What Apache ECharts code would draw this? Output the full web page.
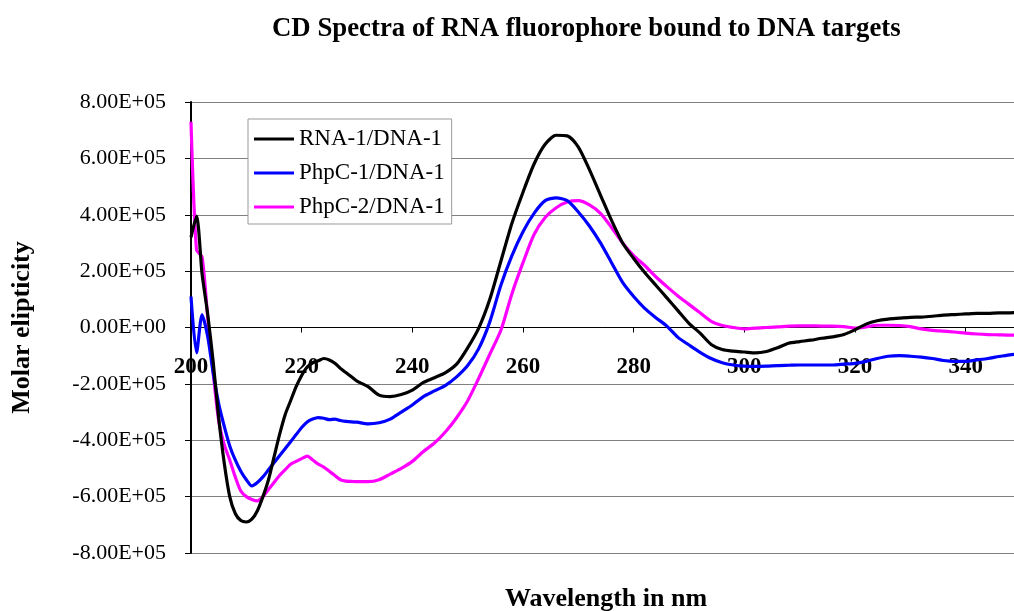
<!DOCTYPE html>
<html>
<head>
<meta charset="utf-8">
<script src="https://cdn.jsdelivr.net/npm/echarts@6/dist/echarts.min.js"></script>
<style>
html,body{margin:0;padding:0;background:#fff;}
#chart{width:1014px;height:611px;}
</style>
</head>
<body>
<div id="chart"></div>
<script>
// Wavelengths (nm): 1 nm steps to 230, then 2 nm steps
const wavelengths = [
  200,201,202,203,204,205,206,207,208,209,210,211,212,213,214,215,216,217,218,219,
  220,221,222,223,224,225,226,227,228,229,230,
  232,234,236,238,240,242,244,246,248,250,252,254,256,258,260,262,264,266,268,270,
  272,274,276,278,280,282,284,286,288,290,292,294,296,298,300,302,304,306,308,310,
  312,314,316,318,320,322,324,326,328,330,332,334,336,338,340,342,344,346,348,350
];
// Molar ellipticity values in units of 1E+05
const rna1dna1 = [
  3.2,3.95,1.9,0.5,-1.2,-3.2,-4.8,-6.0,-6.6,-6.85,-6.9,-6.8,-6.5,-6.0,-5.4,-4.6,-3.8,-3.1,-2.6,-2.1,
  -1.7,-1.4,-1.25,-1.18,-1.1,-1.15,-1.27,-1.45,-1.6,-1.75,-1.9,
  -2.1,-2.4,-2.45,-2.38,-2.22,-1.95,-1.78,-1.6,-1.3,-0.72,-0.02,1.0,2.35,3.7,4.8,5.8,6.5,6.82,6.8,6.4,
  5.6,4.7,3.8,3.0,2.45,1.95,1.5,1.05,0.6,0.15,-0.2,-0.6,-0.78,-0.84,-0.87,-0.9,-0.85,-0.72,-0.56,-0.5,
  -0.45,-0.38,-0.33,-0.25,-0.08,0.12,0.24,0.3,0.33,0.36,0.37,0.4,0.44,0.46,0.48,0.5,0.5,0.52,0.52,0.54
];
const phpc1dna1 = [
  1.1,-0.9,0.45,-0.3,-1.6,-2.7,-3.5,-4.2,-4.7,-5.1,-5.4,-5.62,-5.5,-5.3,-5.05,-4.8,-4.55,-4.3,-4.05,-3.8,
  -3.55,-3.35,-3.25,-3.2,-3.22,-3.27,-3.25,-3.3,-3.33,-3.35,-3.36,
  -3.42,-3.38,-3.25,-3.0,-2.75,-2.45,-2.25,-2.05,-1.75,-1.35,-0.75,0.2,1.5,2.55,3.4,4.05,4.5,4.6,4.5,4.1,
  3.6,3.0,2.3,1.6,1.1,0.68,0.35,0.05,-0.35,-0.62,-0.88,-1.1,-1.25,-1.33,-1.37,-1.38,-1.37,-1.35,-1.34,-1.33,
  -1.33,-1.33,-1.33,-1.3,-1.27,-1.2,-1.1,-1.02,-1.0,-1.02,-1.05,-1.1,-1.17,-1.2,-1.2,-1.15,-1.1,-1.03,-0.97,-0.93
];
const phpc2dna1 = [
  7.3,2.75,2.5,0.4,-1.6,-3.3,-4.15,-4.7,-5.3,-5.8,-6.0,-6.1,-6.15,-6.0,-5.75,-5.5,-5.25,-5.05,-4.85,-4.75,
  -4.65,-4.56,-4.7,-4.85,-4.95,-5.1,-5.25,-5.4,-5.45,-5.46,-5.47,
  -5.47,-5.4,-5.2,-5.0,-4.75,-4.4,-4.1,-3.7,-3.2,-2.6,-1.8,-0.95,-0.1,1.2,2.3,3.3,3.9,4.25,4.45,4.5,
  4.35,4.05,3.55,3.0,2.55,2.2,1.8,1.45,1.12,0.82,0.52,0.22,0.07,0.0,-0.05,-0.02,0.0,0.02,0.05,0.06,
  0.06,0.05,0.05,0.03,-0.02,0.02,0.08,0.08,0.07,0.03,-0.05,-0.1,-0.13,-0.16,-0.2,-0.23,-0.25,-0.26,-0.27,-0.27
];
const seriesNames = ['RNA-1/DNA-1', 'PhpC-1/DNA-1', 'PhpC-2/DNA-1'];
const xTickLabels = [200, 220, 240, 260, 280, 300, 320, 340];
const titleText = 'CD Spectra of RNA fluorophore bound to DNA targets';
const xAxisTitle = 'Wavelength in nm';
const yAxisTitle = 'Molar elipticity';

const SCALE = 1e5;
function pairs(vals) { return wavelengths.map((w, i) => [w, vals[i] * SCALE]); }
function sci(v) {
  if (v === 0) return '0.00E+00';
  const s = v.toExponential(2);
  const parts = s.split('e');
  const sign = parts[1][0];
  const d = parts[1].slice(1).padStart(2, '0');
  return parts[0] + 'E' + sign + d;
}
const FONT = '"Liberation Serif", "Times New Roman", serif';
const colors = ['#000000', '#0000FF', '#FF00FF'];
const allData = [rna1dna1, phpc1dna1, phpc2dna1];

const GRID_TOP = 102, GRID_H = 451;
// The wavelength axis crosses the value axis at 0 (mid-height of the plot)
const zeroOffset = -GRID_H / 2;

const chart = echarts.init(document.getElementById('chart'), null, { renderer: 'canvas' });
chart.setOption({
  animation: false,
  backgroundColor: '#ffffff',
  title: {
    text: titleText,
    left: 267, top: 11,
    textStyle: { fontFamily: FONT, fontWeight: 'bold', fontSize: 26.8, color: '#000' }
  },
  legend: {
    orient: 'vertical',
    left: 248, top: 119,
    icon: 'rect',
    itemWidth: 40, itemHeight: 3, itemGap: 10,
    padding: [8, 7, 5, 6],
    borderColor: '#999', borderWidth: 1, backgroundColor: '#fff',
    textStyle: { fontFamily: FONT, fontSize: 23, color: '#000', lineHeight: 24 },
    data: seriesNames
  },
  grid: { left: 191, top: GRID_TOP, width: 830, height: GRID_H, containLabel: false, outerBoundsMode: 'none' },
  xAxis: {
    type: 'value', min: 200, max: 350, interval: 20,
    position: 'bottom', offset: zeroOffset,
    name: xAxisTitle, nameLocation: 'middle', nameGap: 259,
    nameTextStyle: { fontFamily: FONT, fontWeight: 'bold', fontSize: 26, color: '#000' },
    axisLine: { onZero: false, lineStyle: { color: '#000', width: 1 } },
    axisTick: { show: true, length: 5, lineStyle: { color: '#000' } },
    axisLabel: {
      margin: 28, fontFamily: FONT, fontWeight: 'bold', fontSize: 23, color: '#000',
      formatter: v => xTickLabels.indexOf(v) >= 0 ? String(v) : ''
    },
    splitLine: { show: false }
  },
  yAxis: {
    type: 'value', min: -8e5, max: 8e5, interval: 2e5,
    name: yAxisTitle, nameLocation: 'middle', nameGap: 156, nameRotate: 90,
    nameTextStyle: { fontFamily: FONT, fontWeight: 'bold', fontSize: 26, color: '#000' },
    axisLine: { show: true, lineStyle: { color: '#000', width: 2 } },
    axisTick: { show: true, length: 6, lineStyle: { color: '#000' } },
    axisLabel: { margin: 25, fontFamily: FONT, fontSize: 22, color: '#000', formatter: sci },
    splitLine: { show: true, lineStyle: { color: '#808080', width: 1 } }
  },
  series: allData.map((d, i) => ({
    name: seriesNames[i],
    type: 'line',
    data: pairs(d),
    symbol: 'none', showSymbol: false,
    smooth: 0.25,
    lineStyle: { color: colors[i], width: 3.2 },
    itemStyle: { color: colors[i] },
    z: 3 - i
  }))
});
</script>
</body>
</html>
